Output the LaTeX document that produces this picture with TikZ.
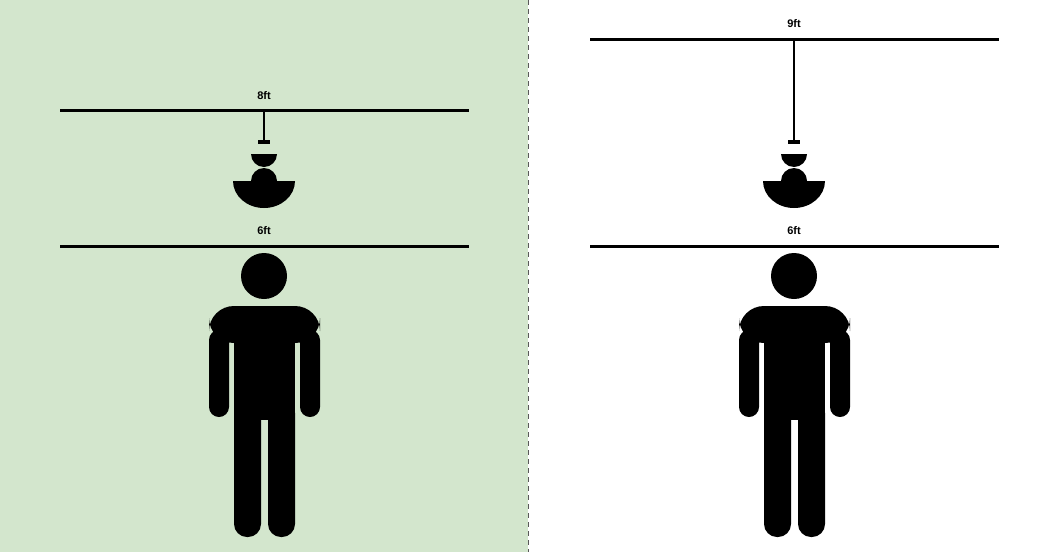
\documentclass[tikz,border=0pt]{standalone}
\usepackage{fontspec}
\setmainfont{Liberation Sans}
\begin{document}
\begin{tikzpicture}[x=1pt,y=-1pt,
  lbl/.style={font=\bfseries\fontsize{11}{13}\selectfont, inner sep=0pt},
  ceil/.style={line width=3pt},
  fig/.style={fill=black}]
\useasboundingbox (0,0) rectangle (1055,552);
\fill[green!55!black!25!white, fill=green!12!white] (0,0) rectangle (528,552);
\fill[fill={rgb,255:red,211;green,230;blue,205}] (0,0) rectangle (528,552);
\draw[dashed, line width=1pt, gray!70!black, dash pattern=on 5pt off 4pt] (528,0) -- (528,552);
\newcommand{\lampfig}[3]{% x, ceiling y, name
  \coordinate (#3c) at (#1,#2);
  \coordinate (#3t) at (#1,140);
  \draw[line width=2pt] (#3c) -- (#3t);
  \fill (#1-6,140) rectangle (#1+6,144);
  \fill (#1-13,154) arc[start angle=180,end angle=0,radius=13] -- cycle;
  \fill (#1-31,181) arc[start angle=180,end angle=0,x radius=31,y radius=27] -- cycle;
  \fill (#1-13,181) arc[start angle=180,end angle=360,radius=13] -- cycle;
}
\newcommand{\personfig}[1]{%
  \fill (#1,276) circle[radius=23];
  \fill[rounded corners=25pt] (#1-55,343) -- (#1-55,306) -- (#1+56,306) -- (#1+56,343) -- cycle;
  \fill[rounded corners=10pt] (#1-55,330) -- (#1-55,417) -- (#1-35,417) -- (#1-35,330) -- cycle;
  \fill[rounded corners=10pt] (#1+36,330) -- (#1+36,417) -- (#1+56,417) -- (#1+56,330) -- cycle;
  \fill (#1-30,320) rectangle (#1+31,420);
  \fill[rounded corners=13pt] (#1-30,400) -- (#1-30,537) -- (#1-3,537) -- (#1-3,400) -- cycle;
  \fill[rounded corners=13pt] (#1+4,400) -- (#1+4,537) -- (#1+31,537) -- (#1+31,400) -- cycle;
}
% left
\draw[ceil] (60,110) -- (469,110);
\node[lbl] (l8) at (264,96) {8ft};
\lampfig{264}{110}{la}
\draw[ceil] (60,246) -- (469,246);
\node[lbl] (l6a) at (264,231) {6ft};
\personfig{264}
% right
\draw[ceil] (590,39) -- (999,39);
\node[lbl] (l9) at (794,24) {9ft};
\lampfig{794}{39}{lb}
\draw[ceil] (590,246) -- (999,246);
\node[lbl] (l6b) at (794,231) {6ft};
\personfig{794}
\end{tikzpicture}
\end{document}
